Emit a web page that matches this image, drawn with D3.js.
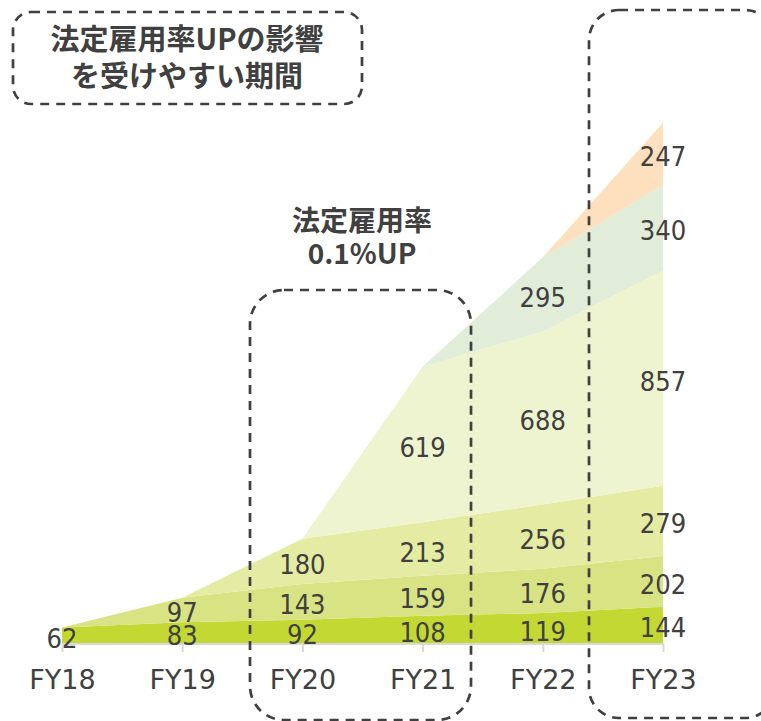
<!DOCTYPE html>
<html>
<head>
<meta charset="utf-8">
<script src="https://cdn.jsdelivr.net/npm/d3@7"></script>
<style>
  body { margin: 0; background: #fff; }
  svg { display: block; }
</style>
</head>
<body>
<div id="chart"></div>
<script>
// fiscal years on the x axis
const years = ["FY18", "FY19", "FY20", "FY21", "FY22", "FY23"];

// stacked series, bottom to top
const s1 = [62, 83, 92, 108, 119, 144];
const s2 = [0, 97, 143, 159, 176, 202];
const s3 = [0, 0, 180, 213, 256, 279];
const s4 = [0, 0, 0, 619, 688, 857];
const s5 = [0, 0, 0, 0, 295, 340];
const s6 = [0, 0, 0, 0, 0, 247];

const seriesKeys = ["s1", "s2", "s3", "s4", "s5", "s6"];
const seriesColors = ["#c4d834", "#d8e483", "#e3eca2", "#eef4cf", "#e1edd9", "#fde0bd"];

const titleLines = ["法定雇用率UPの影響", "を受けやすい期間"];
const noteLines = ["法定雇用率", "0.1%UP"];

const width = 761, height = 721;
const textColor = "#404040";

const svg = d3.select("#chart").append("svg")
    .attr("width", width)
    .attr("height", height);

// build table for d3.stack
const table = years.map((y, i) => ({
    year: y, s1: s1[i], s2: s2[i], s3: s3[i], s4: s4[i], s5: s5[i], s6: s6[i]
}));

const stacked = d3.stack().keys(seriesKeys)(table);

const x = d3.scalePoint().domain(years).range([62, 663]);
const y = d3.scaleLinear().domain([0, 2100]).range([643, 115]);

const area = d3.area()
    .x(d => x(d.data.year))
    .y0(d => y(d[0]))
    .y1(d => y(d[1]));

svg.append("g").selectAll("path")
    .data(stacked)
    .enter()
    .append("path")
    .attr("d", area)
    .attr("fill", (d, i) => seriesColors[i]);

// x axis
const xAxis = svg.append("g")
    .attr("transform", "translate(0,644)")
    .call(d3.axisBottom(x).tickSize(8).tickPadding(18));
xAxis.select(".domain").attr("stroke", "#d9d9d9").attr("stroke-width", 2)
    .attr("d", "M62,0H664");
xAxis.selectAll(".tick line").attr("stroke", "#d9d9d9").attr("stroke-width", 2);
xAxis.selectAll(".tick text")
    .attr("fill", textColor)
    .style("font-family", "'DejaVu Sans', sans-serif")
    .style("font-size", "27px");

// value labels in the middle of each band
stacked.forEach(layer => {
    svg.append("g").selectAll("text")
        .data(layer.filter(d => d[1] - d[0] > 0))
        .enter()
        .append("text")
        .attr("x", d => x(d.data.year))
        .attr("y", d => y((d[0] + d[1]) / 2) + 3)
        .attr("text-anchor", "middle")
        .attr("dominant-baseline", "central")
        .attr("fill", textColor)
        .style("font-family", "'DejaVu Sans Condensed', 'DejaVu Sans', sans-serif")
        .style("font-size", "27px")
        .text(d => d[1] - d[0]);
});

// dashed boxes
const boxes = [
    { x: 13, y: 12, w: 349, h: 92, r: 18 },
    { x: 250, y: 290, w: 221, h: 430, r: 34 },
    { x: 589, y: 10, w: 186, h: 708, r: 30 }
];
svg.append("g").selectAll("rect")
    .data(boxes)
    .enter()
    .append("rect")
    .attr("x", d => d.x)
    .attr("y", d => d.y)
    .attr("width", d => d.w)
    .attr("height", d => d.h)
    .attr("rx", d => d.r)
    .attr("fill", "none")
    .attr("stroke", textColor)
    .attr("stroke-width", 2.7)
    .attr("stroke-dasharray", "9,7");

// title in the top-left box
svg.append("g").selectAll("text")
    .data(titleLines)
    .enter()
    .append("text")
    .attr("x", 187)
    .attr("y", (d, i) => 37 + i * 37)
    .attr("text-anchor", "middle")
    .attr("dominant-baseline", "central")
    .attr("fill", textColor)
    .style("font-family", "'Noto Sans CJK JP', sans-serif")
    .style("font-weight", 700)
    .style("font-size", "29px")
    .text(d => d);

// note above FY20-FY21
svg.append("g").selectAll("text")
    .data(noteLines)
    .enter()
    .append("text")
    .attr("x", 362)
    .attr("y", (d, i) => 219 + i * 33)
    .attr("text-anchor", "middle")
    .attr("dominant-baseline", "central")
    .attr("fill", textColor)
    .style("font-family", "'Noto Sans CJK JP', sans-serif")
    .style("font-weight", 700)
    .style("font-size", "28px")
    .text(d => d);
</script>
</body>
</html>
